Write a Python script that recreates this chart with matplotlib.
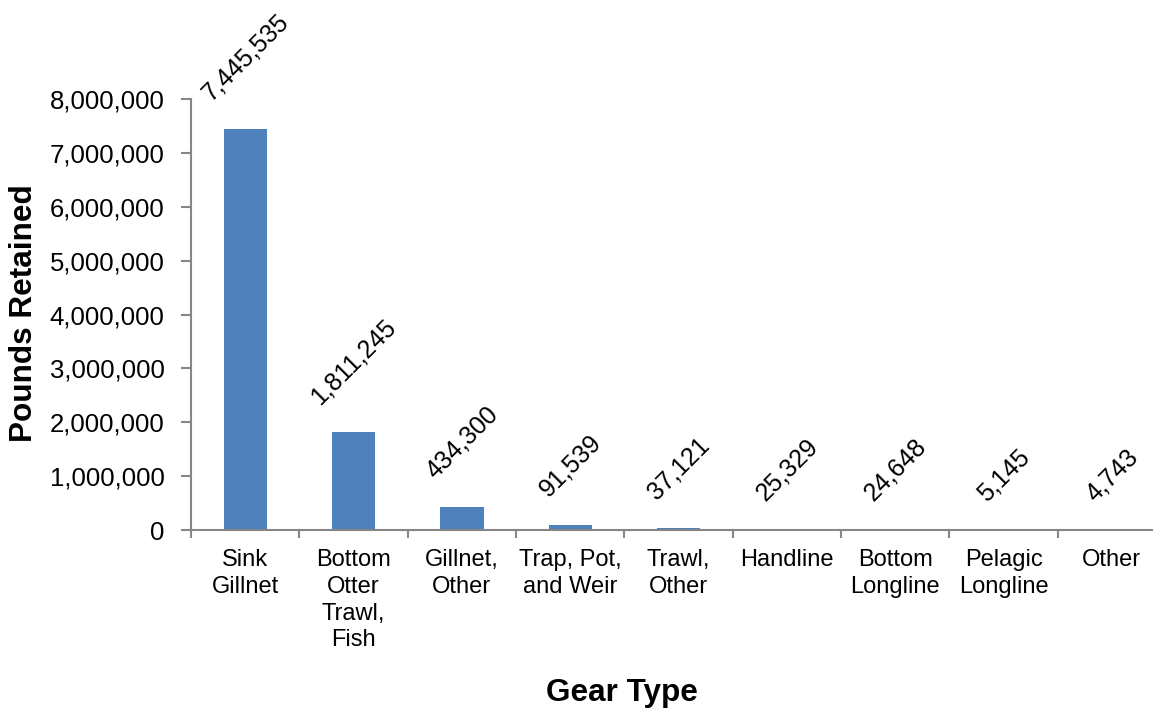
import matplotlib
matplotlib.use("Agg")
import matplotlib.pyplot as plt
from matplotlib.ticker import FuncFormatter, FixedLocator

plt.rcParams['font.family'] = ['Liberation Sans', 'DejaVu Sans']

# Pounds retained by gear type
gear_types = ["Sink\nGillnet", "Bottom\nOtter\nTrawl,\nFish", "Gillnet,\nOther",
              "Trap, Pot,\nand Weir", "Trawl,\nOther", "Handline",
              "Bottom\nLongline", "Pelagic\nLongline", "Other"]
pounds = [7445535, 1811245, 434300, 91539, 37121, 25329, 24648, 5145, 4743]
y_ticks = [0, 1000000, 2000000, 3000000, 4000000, 5000000, 6000000, 7000000, 8000000]

W, H = 1153, 711
fig = plt.figure(figsize=(W / 100, H / 100), dpi=100)
left, right, top, bottom = 191, 1166, 99, 530
ax = fig.add_axes([left / W, 1 - bottom / H, (right - left) / W, (bottom - top) / H])

bar_color = "#4F81BD"
axis_color = "#868686"

x = list(range(len(pounds)))
ax.bar(x, pounds, width=0.40, color=bar_color, zorder=2)

for xi, v in zip(x, pounds):
    ax.annotate(f"{v:,}", (xi, v), xytext=(0, 17), textcoords="offset points",
                rotation=45, ha="center", va="bottom", fontsize=18, color="black",
                annotation_clip=False)

ax.set_xlim(-0.5, len(pounds) - 0.5)
ax.set_ylim(0, 8000000)
ax.yaxis.set_major_locator(FixedLocator(y_ticks))
ax.yaxis.set_major_formatter(FuncFormatter(lambda v, p: f"{int(v):,}"))

ax.set_xticks(x)
ax.set_xticklabels(gear_types, fontsize=17, linespacing=1.27)
ax.set_xticks([i - 0.5 for i in range(len(pounds) + 1)], minor=True)
ax.tick_params(axis="x", which="major", length=0, pad=14)
ax.tick_params(axis="x", which="minor", length=6, width=1.5, color=axis_color, direction="out")
ax.tick_params(axis="y", which="major", length=7, width=1.5, color=axis_color,
               direction="out", labelsize=18.5, pad=12)

for s in ("top", "right"):
    ax.spines[s].set_visible(False)
for s in ("left", "bottom"):
    ax.spines[s].set_color(axis_color)
    ax.spines[s].set_linewidth(1.5)

fig.text(622 / W, 1 - 693 / H, "Gear Type", ha="center", va="center",
         fontsize=22.7, fontweight="bold")
fig.text(24 / W, 1 - 313 / H, "Pounds Retained", ha="center", va="center",
         rotation=90, fontsize=22.7, fontweight="bold")

fig.savefig("out.png", dpi=100, facecolor="white")
